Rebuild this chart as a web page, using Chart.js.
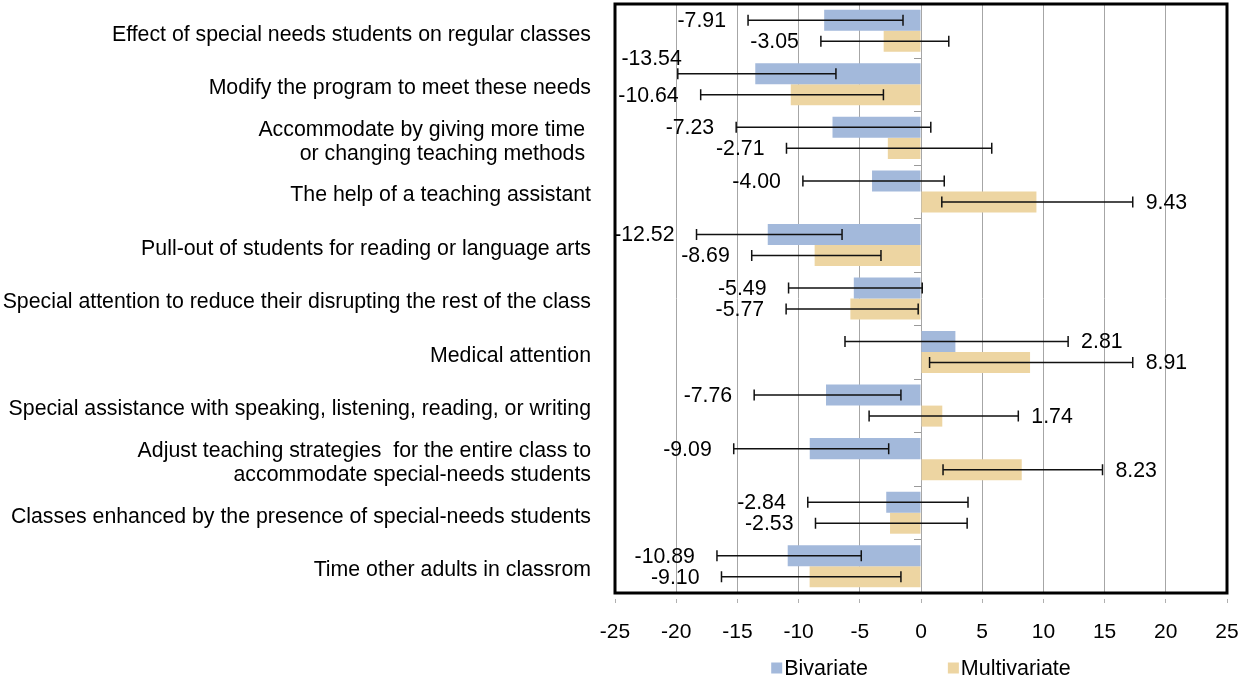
<!DOCTYPE html>
<html>
<head>
<meta charset="utf-8">
<script src="https://cdn.jsdelivr.net/npm/chart.js@4.4.1/dist/chart.umd.min.js"></script>
<style>
  html, body { margin: 0; padding: 0; background: #fff; }
  #contenedor { width: 1242px; height: 682px; }
</style>
</head>
<body>
<div id="contenedor"><canvas id="grafica"></canvas></div>
<script>
const categorias = [
    "Effect of special needs students on regular classes",
    "Modify the program to meet these needs",
    ["Accommodate by giving more time ", "or changing teaching methods "],
    "The help of a teaching assistant",
    "Pull-out of students for reading or language arts",
    "Special attention to reduce their disrupting the rest of the class",
    "Medical attention",
    "Special assistance with speaking, listening, reading, or writing",
    ["Adjust teaching strategies  for the entire class to", "accommodate special-needs students"],
    "Classes enhanced by the presence of special-needs students",
    "Time other adults in classrom"
];

const bivariada    = [-7.91, -13.54, -7.23, -4.00, -12.52, -5.49, 2.81, -7.76, -9.09, -2.84, -10.89];
const bivBajo      = [-14.13, -19.87, -15.10, -9.65, -18.34, -10.82, -6.21, -13.63, -15.30, -9.25, -16.67];
const bivAlto      = [-1.47, -6.95, 0.80, 1.90, -6.45, 0.10, 12.02, -1.64, -2.64, 3.84, -4.88];

const multivariada = [-3.05, -10.64, -2.71, 9.43, -8.69, -5.77, 8.91, 1.74, 8.23, -2.53, -9.10];
const multBajo     = [-8.18, -18.00, -10.99, 1.70, -13.83, -11.02, 0.70, -4.24, 1.80, -8.62, -16.30];
const multAlto     = [2.27, -3.07, 5.78, 17.30, -3.27, -0.23, 17.30, 7.95, 14.83, 3.77, -1.64];

const ejeMin = -25;
const ejeMax = 25;
const ejePaso = 5;

const FUENTE = '"Liberation Sans", Arial, sans-serif';

Chart.defaults.font.family = FUENTE;
Chart.defaults.font.size = 21;
Chart.defaults.color = "#000";

// barras de error, marco, marcas en el cero y etiquetas de valor
const extras = {
    id: 'extras',
    afterDatasetsDraw(chart) {
        const ctx = chart.ctx;
        const area = chart.chartArea;
        const x = chart.scales.x;
        const y = chart.scales.y;
        const x0 = x.getPixelForValue(0);

        ctx.save();

        // marcas del eje de categorias sobre el cero
        ctx.strokeStyle = "#9a9a9a";
        ctx.lineWidth = 1;
        ctx.beginPath();
        for (let i = 1; i < categorias.length; i++) {
            const yb = Math.round((y.getPixelForValue(i - 1) + y.getPixelForValue(i)) / 2) + 0.5;
            ctx.moveTo(x0 - 7, yb);
            ctx.lineTo(x0, yb);
        }
        ctx.stroke();

        // marco negro
        ctx.strokeStyle = "#000";
        ctx.lineWidth = 3;
        ctx.strokeRect(area.left, area.top, area.right - area.left, area.bottom - area.top);

        // barras de error
        ctx.strokeStyle = "#111";
        ctx.lineWidth = 1.5;
        chart.data.datasets.forEach((ds, d) => {
            const meta = chart.getDatasetMeta(d);
            meta.data.forEach((bar, i) => {
                const x1 = x.getPixelForValue(ds.bajo[i]);
                const x2 = x.getPixelForValue(ds.alto[i]);
                const yc = bar.y;
                ctx.beginPath();
                ctx.moveTo(x1, yc); ctx.lineTo(x2, yc);
                ctx.moveTo(x1, yc - 5.5); ctx.lineTo(x1, yc + 5.5);
                ctx.moveTo(x2, yc - 5.5); ctx.lineTo(x2, yc + 5.5);
                ctx.stroke();
            });
        });

        // etiquetas de valor
        ctx.font = "21.3px " + FUENTE;
        ctx.fillStyle = "#000";
        ctx.textBaseline = "middle";
        chart.data.datasets.forEach((ds, d) => {
            const meta = chart.getDatasetMeta(d);
            meta.data.forEach((bar, i) => {
                const v = ds.data[i];
                const txt = v.toFixed(2);
                let tx, ty = bar.y + 1;
                if (v < 0) {
                    const x1 = x.getPixelForValue(ds.bajo[i]);
                    const w = ctx.measureText(txt).width;
                    tx = x1 - 22;
                    if (tx - w < area.left - 6) {
                        tx = x1 + 4;
                        ty = bar.y - 15;
                    }
                    ctx.textAlign = "right";
                } else {
                    tx = x.getPixelForValue(ds.alto[i]) + 13;
                    ctx.textAlign = "left";
                }
                ctx.fillText(txt, tx, ty);
            });
        });

        ctx.restore();
    }
};

// leyenda debajo del area del grafico
const leyenda = {
    id: 'leyenda',
    afterDraw(chart) {
        const ctx = chart.ctx;
        const area = chart.chartArea;
        const yc = 668;
        const caja = 11;
        const separacion = 80;

        ctx.save();
        ctx.font = "21.5px " + FUENTE;
        ctx.textBaseline = "middle";
        ctx.textAlign = "left";
        const items = chart.data.datasets.map(ds => ({
            texto: ds.label,
            color: ds.backgroundColor,
            ancho: caja + 2 + ctx.measureText(ds.label).width
        }));
        const total = items.reduce((s, it) => s + it.ancho, 0) + separacion * (items.length - 1);
        let px = (area.left + area.right) / 2 - total / 2;
        items.forEach(it => {
            ctx.fillStyle = it.color;
            ctx.fillRect(px, yc - caja / 2, caja, caja);
            ctx.fillStyle = "#000";
            ctx.fillText(it.texto, px + caja + 2, yc + 1);
            px += it.ancho + separacion;
        });
        ctx.restore();
    }
};

new Chart(document.getElementById('grafica').getContext('2d'), {
    type: 'bar',
    data: {
        labels: categorias,
        datasets: [
            {
                label: 'Bivariate',
                data: bivariada,
                bajo: bivBajo,
                alto: bivAlto,
                backgroundColor: "#A3B9DB",
                borderWidth: 0
            },
            {
                label: 'Multivariate',
                data: multivariada,
                bajo: multBajo,
                alto: multAlto,
                backgroundColor: "#EDD5A2",
                borderWidth: 0
            }
        ]
    },
    options: {
        indexAxis: 'y',
        responsive: true,
        maintainAspectRatio: false,
        animation: false,
        categoryPercentage: 0.785,
        barPercentage: 1,
        layout: { padding: { top: 4, right: 15, bottom: 0, left: 0 } },
        plugins: {
            legend: { display: false },
            tooltip: { enabled: false }
        },
        scales: {
            x: {
                min: ejeMin,
                max: ejeMax,
                ticks: { stepSize: ejePaso, padding: 17, font: { size: 21 } },
                grid: {
                    color: "#a6a6a6",
                    lineWidth: 1,
                    tickLength: 10,
                    tickColor: "#b0b0b0",
                    tickBorderDash: [0, 6, 4, 100]
                },
                border: { display: false },
                afterFit(scale) {
                    scale.height = 89;
                    scale.paddingLeft = 0;
                    scale.paddingRight = 0;
                }
            },
            y: {
                grid: { display: false },
                border: { display: false },
                ticks: {
                    autoSkip: false,
                    padding: 16,
                    labelOffset: 4,
                    font: { size: 21.3, lineHeight: 1.13 }
                },
                afterFit(scale) {
                    scale.width = 615;
                    scale.paddingTop = 0;
                    scale.paddingBottom = 0;
                }
            }
        }
    },
    plugins: [extras, leyenda]
});
</script>
</body>
</html>
